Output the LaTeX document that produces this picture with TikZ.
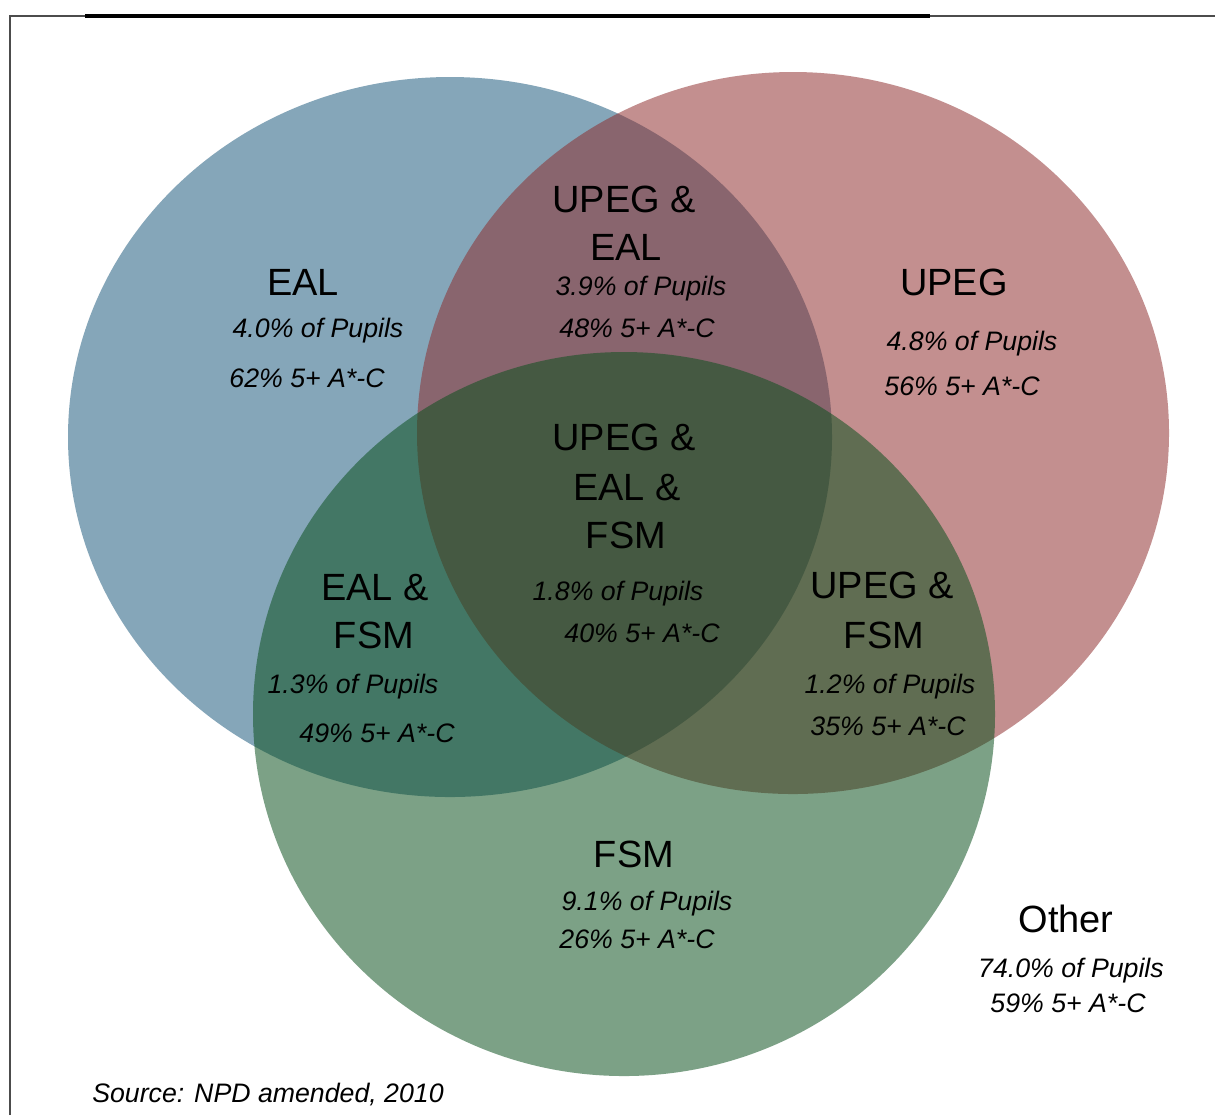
\documentclass[tikz,border=0pt]{standalone}
\usepackage{fontspec}
\setmainfont{Liberation Sans}
\definecolor{ealblue}{RGB}{26,87,123}
\definecolor{upegred}{RGB}{142,44,44}
\definecolor{fsmgreen}{RGB}{9,79,28}

\begin{document}
\begin{tikzpicture}[x=0.1mm, y=-0.1mm,
		set/.style={fill opacity=0.53},
		title/.style={font=\fontsize{10.8}{13}\selectfont, inner sep=0pt, anchor=base},
		stat/.style={font=\fontsize{7.6}{9}\selectfont\itshape, inner sep=0pt, anchor=base},
	]
		\useasboundingbox (0,0) rectangle (1215,1115);
		\fill[white] (0,0) rectangle (1215,1115);
		
		% frame
		\draw[black!70, line width=0.5pt] (10,1115) -- (10,16) -- (1215,16);
		\draw[black, line width=0.9pt] (85,16) -- (930,16);
		
		% the three sets
		\fill[ealblue, set] (450,437) ellipse [x radius=382, y radius=360];
		\fill[upegred, set] (793,433) ellipse [x radius=376, y radius=361];
		\fill[fsmgreen, set] (624,714) ellipse [x radius=371, y radius=362];
		
		% EAL
		\node (eal) [title] at (303,295) {EAL};
		\node (ealp) [stat] at (318,337) {4.0\% of Pupils};
		\node (ealg) [stat] at (307,387) {62\% 5+ A*-C};
		
		% UPEG & EAL
		\node (ueal) [title] at (624,212) {UPEG \&};
		\node (uealb) [title] at (626,260) {EAL};
		\node (uealp) [stat] at (641,295) {3.9\% of Pupils};
		\node (uealg) [stat] at (637,337) {48\% 5+ A*-C};
		
		% UPEG
		\node (upeg) [title] at (954,295) {UPEG};
		\node (upegp) [stat] at (972,350) {4.8\% of Pupils};
		\node (upegg) [stat] at (962,395) {56\% 5+ A*-C};
		
		% UPEG & EAL & FSM
		\node (all) [title] at (624,450) {UPEG \&};
		\node (allb) [title] at (627,500) {EAL \&};
		\node (allc) [title] at (626,548) {FSM};
		\node (allp) [stat] at (618,600) {1.8\% of Pupils};
		\node (allg) [stat] at (642,642) {40\% 5+ A*-C};
		
		% EAL & FSM
		\node (efsm) [title] at (375,600) {EAL \&};
		\node (efsmb) [title] at (374,648) {FSM};
		\node (efsmp) [stat] at (353,693) {1.3\% of Pupils};
		\node (efsmg) [stat] at (377,742) {49\% 5+ A*-C};
		
		% UPEG & FSM
		\node (ufsm) [title] at (882,598) {UPEG \&};
		\node (ufsmb) [title] at (884,648) {FSM};
		\node (ufsmp) [stat] at (890,693) {1.2\% of Pupils};
		\node (ufsmg) [stat] at (888,735) {35\% 5+ A*-C};
		
		% FSM
		\node (fsm) [title] at (634,867) {FSM};
		\node (fsmp) [stat] at (647,910) {9.1\% of Pupils};
		\node (fsmg) [stat] at (637,948) {26\% 5+ A*-C};
		
		% Other
		\node (other) [title] at (1066,932) {Other};
		\node (otherp) [stat] at (1071,977) {74.0\% of Pupils};
		\node (otherg) [stat] at (1068,1012) {59\% 5+ A*-C};
		
		\node (src) [stat] at (268,1102) {Source: NPD amended, 2010};
	\end{tikzpicture}
\end{document}
